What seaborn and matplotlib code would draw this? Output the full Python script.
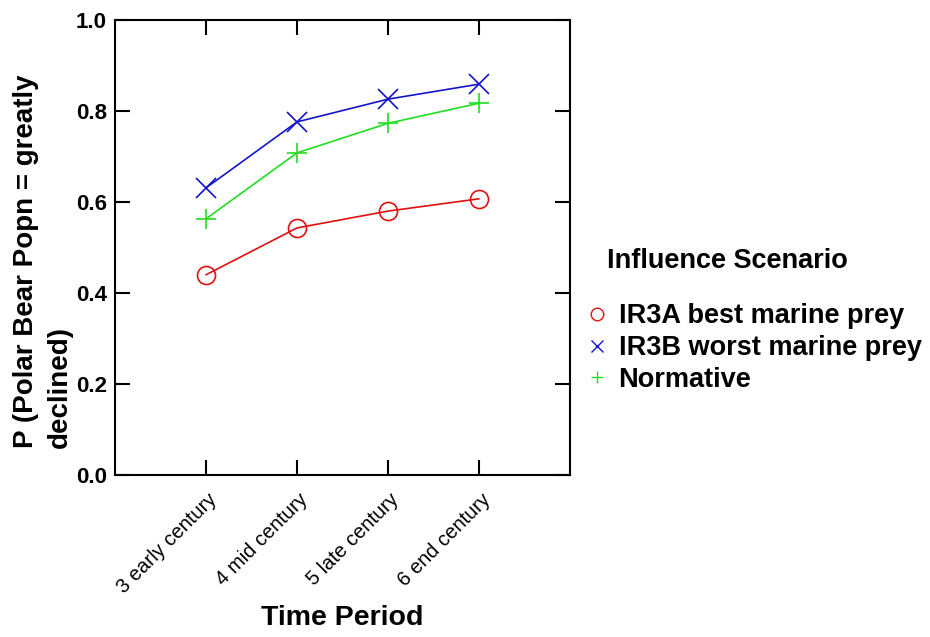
import matplotlib
matplotlib.use("Agg")
import matplotlib.pyplot as plt
from matplotlib.lines import Line2D
from matplotlib.transforms import ScaledTranslation
import seaborn as sns
import pandas as pd

periods = ["3 early century", "4 mid century", "5 late century", "6 end century"]
scenarios = ["IR3A best marine prey", "IR3B worst marine prey", "Normative"]
ir3a = [0.440, 0.543, 0.580, 0.607]
ir3b = [0.631, 0.776, 0.826, 0.859]
normative = [0.563, 0.708, 0.773, 0.817]
yticks = [0.0, 0.2, 0.4, 0.6, 0.8, 1.0]

colors = {"IR3A best marine prey": "#e01010",
          "IR3B worst marine prey": "#1414cc",
          "Normative": "#22dd22"}
markers = {"IR3A best marine prey": "o",
           "IR3B worst marine prey": "x",
           "Normative": "+"}

df = pd.DataFrame({
    "period": periods * 3,
    "value": ir3a + ir3b + normative,
    "scenario": [s for s in scenarios for _ in periods],
})

sns.set_theme(style="white")
plt.rcParams["font.family"] = ["Liberation Sans", "DejaVu Sans"]
plt.rcParams["text.color"] = "black"
plt.rcParams["axes.labelcolor"] = "black"
plt.rcParams["xtick.color"] = "black"
plt.rcParams["ytick.color"] = "black"

fig = plt.figure(figsize=(9.3, 6.37), dpi=100)
ax = fig.add_axes([115 / 930, 1 - 475 / 637, 455 / 930, 455 / 637])

for s in scenarios:
    sub = df[df["scenario"] == s]
    sns.lineplot(data=sub, x="period", y="value", ax=ax, color=colors[s],
                 marker=markers[s], markersize=14 if s != "IR3A best marine prey" else 13,
                 mfc="none", mec=colors[s], mew=1.2, linewidth=1.2,
                 legend=False, sort=False)

ax.set_xlim(-1, 4)
ax.set_ylim(0, 1.0)
ax.set_yticks(yticks)
ax.set_yticklabels([f"{v:.1f}" for v in yticks], fontsize=16, fontweight="bold")
ax.set_xticks(range(len(periods)))
ax.set_xticklabels(periods, rotation=45, ha="right", va="top", fontsize=14.5)
ax.tick_params(axis="both", direction="in", length=11, width=1.5,
               top=True, right=True, bottom=True, left=True, colors="black")
ax.tick_params(axis="x", pad=11)
ax.tick_params(axis="y", pad=6)
shift = ScaledTranslation(15 / 100, 0, fig.dpi_scale_trans)
for lab in ax.get_xticklabels():
    lab.set_transform(lab.get_transform() + shift)
for sp in ax.spines.values():
    sp.set_color("black")
    sp.set_linewidth(1.5)

ax.set_xlabel("Time Period", fontsize=20.5, fontweight="bold")
ax.xaxis.set_label_coords(0.5, -0.286)
ax.set_ylabel("P (Polar Bear Popn = greatly\ndeclined)", fontsize=20,
              fontweight="bold", linespacing=1.4, multialignment="left")
ax.yaxis.set_label_coords(-0.093, 0.47)

fig.text(607 / 930, 1 - 261 / 637, "Influence Scenario", fontsize=19.5,
         fontweight="bold", va="center", ha="left")
handles = [Line2D([], [], linestyle="none", marker=markers[s], color=colors[s],
                  mfc="none", mec=colors[s], markersize=9, mew=1.0)
           for s in scenarios]
leg = fig.legend(handles, scenarios, loc="center left",
                 bbox_to_anchor=(586 / 930, 1 - 348 / 637), frameon=False,
                 handlelength=0.8, handletextpad=0.4, borderpad=0,
                 borderaxespad=0, labelspacing=0.22,
                 prop={"size": 19.5, "weight": "bold"})

fig.savefig("out.png", dpi=100)
